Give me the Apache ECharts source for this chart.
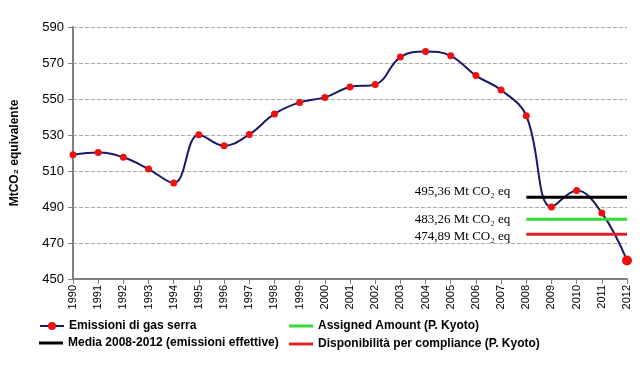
<!DOCTYPE html>
<html><head><meta charset="utf-8">
<script src="https://cdn.jsdelivr.net/npm/echarts@6/dist/echarts.min.js"></script>
<style>html,body{margin:0;padding:0;background:#fff}#c{width:643px;height:368px}</style>
</head><body><div id="c"></div>
<script>
const years = ['1990','1991','1992','1993','1994','1995','1996','1997','1998','1999','2000','2001','2002','2003','2004','2005','2006','2007','2008','2009','2010','2011','2012'];
const emissions = [519, 520.3, 517.6, 511.1, 503.3, 530.2, 524, 530.3, 541.7, 548.1, 550.9, 556.7, 558, 573.3, 576.4, 574, 563, 555, 540.7, 490, 499.2, 486.7, 460.3];
const mediaValue = 495.36;
const assignedValue = 483.26;
const disponibilitaValue = 474.89;
const refStartYear = '2008';
const yTicks = {min: 450, max: 590, interval: 20};

const names = ['Emissioni di gas serra','Media 2008-2012 (emissioni effettive)','Assigned Amount (P. Kyoto)','Disponibilità per compliance (P. Kyoto)'];

function refData(v, offY){
  const start = years.indexOf(refStartYear);
  return years.map((y,i)=>{
    if(i<start) return '-';
    if(i===start) return {value:v, label:{show:true, position:'left', distance:16, offset:[0,offY],
      formatter: v.toFixed(2).replace('.',',') + ' Mt CO₂ eq',
      fontFamily:'Liberation Serif', fontSize:13, color:'#000'}};
    return v;
  });
}

const legendText = {fontWeight:'bold', fontSize:12, color:'#000'};
const chart = echarts.init(document.getElementById('c'));
chart.setOption({
  animation:false,
  textStyle:{fontFamily:'Liberation Sans'},
  grid:{left:73, right:16, top:27, bottom:89},
  legend:[
    {left:34, top:315, itemWidth:24, itemHeight:10, data:[names[0]], textStyle:legendText},
    {left:34, top:332, itemWidth:24, itemHeight:3, icon:'rect', data:[names[1]], textStyle:legendText},
    {left:284, top:315, orient:'vertical', itemGap:6, itemWidth:24, itemHeight:3, icon:'rect',
     data:[names[2],names[3]], textStyle:legendText}
  ],
  xAxis:{type:'category', data:years, boundaryGap:false,
    axisLine:{lineStyle:{color:'#808080', width:2}},
    axisTick:{show:true, length:5, lineStyle:{color:'#808080'}},
    axisLabel:{rotate:90, fontSize:11, color:'#000', margin:6},
    splitLine:{show:false}},
  yAxis:{type:'value', min:yTicks.min, max:yTicks.max, interval:yTicks.interval,
    name:'MtCO₂ equivalente', nameLocation:'middle', nameRotate:90, nameGap:52,
    nameTextStyle:{fontWeight:'bold', fontSize:12, color:'#000'},
    axisLine:{show:true, lineStyle:{color:'#808080', width:2}},
    axisTick:{show:true, length:5, lineStyle:{color:'#808080'}},
    axisLabel:{fontSize:13, color:'#000', margin:9},
    splitLine:{lineStyle:{color:'#aaa', type:'dashed', width:1}}},
  series:[
    {name:names[0], type:'line', smooth:0.4, data:emissions.map((v,i)=> i===emissions.length-1 ? {value:v, symbolSize:10} : v),
     symbol:'circle', symbolSize:7, lineStyle:{color:'#1a1a66', width:2}, itemStyle:{color:'#ee1111'}, z:3},
    {name:names[1], type:'line', data:refData(mediaValue,-6), symbol:'circle', symbolSize:0, showSymbol:true, lineStyle:{color:'#000', width:3}, itemStyle:{color:'#000'}},
    {name:names[2], type:'line', data:refData(assignedValue,0), symbol:'circle', symbolSize:0, showSymbol:true, lineStyle:{color:'#33dd33', width:3}, itemStyle:{color:'#33dd33'}},
    {name:names[3], type:'line', data:refData(disponibilitaValue,2), symbol:'circle', symbolSize:0, showSymbol:true, lineStyle:{color:'#e02020', width:3}, itemStyle:{color:'#e02020'}}
  ]
});
</script></body></html>
